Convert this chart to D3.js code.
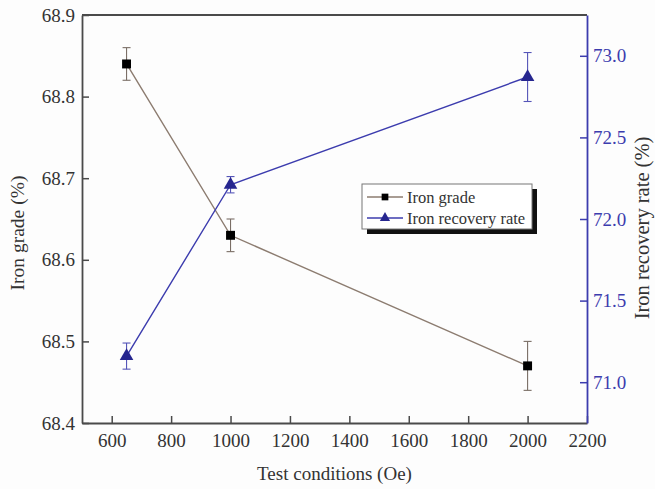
<!DOCTYPE html>
<html>
<head>
<meta charset="utf-8">
<script src="https://cdn.jsdelivr.net/npm/d3@7"></script>
<style>
  body { margin: 0; background: #fdfdfd; }
  text { font-family: "Liberation Serif", "Times New Roman", serif; }
</style>
</head>
<body>
<div id="chart"></div>
<script>
// Data
var conditions = [650, 1000, 2000];
var ironGrade = [68.84, 68.63, 68.47];
var ironGradeErr = [0.02, 0.02, 0.03];
var recovery = [71.16, 72.21, 72.87];
var recoveryErr = [0.08, 0.05, 0.15];

var xTicks = [600, 800, 1000, 1200, 1400, 1600, 1800, 2000, 2200];
var leftTicks = [68.4, 68.5, 68.6, 68.7, 68.8, 68.9];
var rightTicks = [71.0, 71.5, 72.0, 72.5, 73.0];
var seriesNames = ['Iron grade', 'Iron recovery rate'];

var chartWidth = 655;
var chartHeight = 489;
var margin = {top: 15, right: 68, bottom: 66, left: 82};

var blue = '#3c3cae';
var lineBrown = '#8c7c70';
var axisGray = '#4a4a4a';

var svg = d3.select('#chart')
    .append('svg')
    .attr('width', chartWidth)
    .attr('height', chartHeight);

// Scales
var scaleX = d3.scaleLinear()
    .domain([500, 2200])
    .range([margin.left, chartWidth - margin.right]);

var scaleY = d3.scaleLinear()
    .domain([68.4, 68.9])
    .range([chartHeight - margin.bottom, margin.top]);

var scaleY2 = d3.scaleLinear()
    .domain([70.75, 73.25])
    .range([chartHeight - margin.bottom, margin.top]);

var x0 = margin.left, x1 = chartWidth - margin.right;
var y0 = chartHeight - margin.bottom, y1 = margin.top;

// Top frame line
svg.append('line')
    .attr('x1', x0).attr('x2', x1)
    .attr('y1', y1).attr('y2', y1)
    .attr('stroke', axisGray).attr('stroke-width', 1.8);

// Axes
var xAxis = svg.append('g')
    .attr('transform', 'translate(0,' + y0 + ')')
    .call(d3.axisBottom(scaleX).tickValues(xTicks).tickSize(-7).tickPadding(11).tickSizeOuter(0)
      .tickFormat(d3.format('d')));

var yAxis = svg.append('g')
    .attr('transform', 'translate(' + x0 + ',0)')
    .call(d3.axisLeft(scaleY).tickValues(leftTicks).tickSize(-7).tickPadding(7).tickSizeOuter(0)
      .tickFormat(d3.format('.1f')));

var yAxis2 = svg.append('g')
    .attr('transform', 'translate(' + x1 + ',0)')
    .call(d3.axisRight(scaleY2).tickValues(rightTicks).tickSize(-7).tickPadding(6).tickSizeOuter(0)
      .tickFormat(d3.format('.1f')));

[xAxis, yAxis].forEach(function(g) {
  g.select('.domain').attr('stroke', axisGray).attr('stroke-width', 1.8);
  g.selectAll('.tick line').attr('stroke', axisGray).attr('stroke-width', 1.5);
  g.selectAll('.tick text').attr('fill', '#333');
});
yAxis2.select('.domain').attr('stroke', blue).attr('stroke-width', 1.8);
yAxis2.selectAll('.tick line').attr('stroke', blue).attr('stroke-width', 1.5);
yAxis2.selectAll('.tick text').attr('fill', blue);
svg.selectAll('.tick text')
    .attr('font-size', 19)
    .attr('font-family', '"Liberation Serif", serif');

// Axis titles
svg.append('text')
    .attr('x', (x0 + x1) / 2).attr('y', 480)
    .attr('text-anchor', 'middle')
    .attr('fill', '#333').style('font-size', '19px')
    .text('Test conditions (Oe)');

svg.append('text')
    .attr('transform', 'translate(24,233) rotate(-90)')
    .attr('text-anchor', 'middle')
    .attr('fill', '#333').style('font-size', '19.5px')
    .text('Iron grade (%)');

svg.append('text')
    .attr('transform', 'translate(649,228) rotate(-90)')
    .attr('text-anchor', 'middle')
    .attr('fill', '#333').style('font-size', '20.5px')
    .text('Iron recovery rate (%)');

var gradeData = conditions.map(function(c, i) {
  return {x: c, y: ironGrade[i], e: ironGradeErr[i]};
});
var recData = conditions.map(function(c, i) {
  return {x: c, y: recovery[i], e: recoveryErr[i]};
});

function drawSeries(data, sy, lineColor, errColor) {
  var line = d3.line()
      .x(function(d) { return scaleX(d.x); })
      .y(function(d) { return sy(d.y); });
  svg.append('path')
      .datum(data)
      .attr('d', line)
      .attr('fill', 'none')
      .attr('stroke', lineColor)
      .attr('stroke-width', 1.4);

  var err = svg.append('g').selectAll('g')
      .data(data)
      .enter()
      .append('g')
      .attr('stroke', errColor)
      .attr('stroke-width', 1.1);
  err.append('line')
      .attr('x1', function(d) { return scaleX(d.x); })
      .attr('x2', function(d) { return scaleX(d.x); })
      .attr('y1', function(d) { return sy(d.y - d.e); })
      .attr('y2', function(d) { return sy(d.y + d.e); });
  err.append('line')
      .attr('x1', function(d) { return scaleX(d.x) - 4; })
      .attr('x2', function(d) { return scaleX(d.x) + 4; })
      .attr('y1', function(d) { return sy(d.y + d.e); })
      .attr('y2', function(d) { return sy(d.y + d.e); });
  err.append('line')
      .attr('x1', function(d) { return scaleX(d.x) - 4; })
      .attr('x2', function(d) { return scaleX(d.x) + 4; })
      .attr('y1', function(d) { return sy(d.y - d.e); })
      .attr('y2', function(d) { return sy(d.y - d.e); });
}

drawSeries(gradeData, scaleY, lineBrown, '#7a6e66');
drawSeries(recData, scaleY2, blue, '#5555b8');

var square = d3.symbol().type(d3.symbolSquare).size(80);
var triangle = d3.symbol().type(d3.symbolTriangle).size(80);

svg.selectAll('path.grade')
    .data(gradeData)
    .enter()
    .append('path')
    .attr('class', 'grade')
    .attr('d', square)
    .attr('transform', function(d) {
      return 'translate(' + scaleX(d.x) + ',' + scaleY(d.y) + ')';
    })
    .attr('fill', '#000');

svg.selectAll('path.rec')
    .data(recData)
    .enter()
    .append('path')
    .attr('class', 'rec')
    .attr('d', triangle)
    .attr('transform', function(d) {
      return 'translate(' + scaleX(d.x) + ',' + scaleY2(d.y) + ')';
    })
    .attr('fill', '#26268f');

// Legend
var lg = svg.append('g').attr('transform', 'translate(362,184)');
lg.append('rect')
    .attr('x', 5).attr('y', 5)
    .attr('width', 170).attr('height', 45)
    .attr('fill', '#111');
lg.append('rect')
    .attr('x', 0).attr('y', 0)
    .attr('width', 170).attr('height', 45)
    .attr('fill', '#fff').attr('stroke', '#777').attr('stroke-width', 1);

var legendItems = lg.selectAll('g.item')
    .data(seriesNames)
    .enter()
    .append('g')
    .attr('class', 'item')
    .attr('transform', function(d, i) { return 'translate(0,' + (13 + i * 21) + ')'; });
legendItems.append('line')
    .attr('x1', 5).attr('x2', 41)
    .attr('y1', 0).attr('y2', 0)
    .attr('stroke', function(d, i) { return i === 0 ? lineBrown : blue; })
    .attr('stroke-width', 1.3);
legendItems.append('path')
    .attr('d', function(d, i) {
      return d3.symbol().type(i === 0 ? d3.symbolSquare : d3.symbolTriangle).size(45)();
    })
    .attr('transform', 'translate(23,0)')
    .attr('fill', function(d, i) { return i === 0 ? '#000' : '#26268f'; });
legendItems.append('text')
    .attr('x', 45).attr('y', 5.5)
    .attr('fill', '#333')
    .style('font-size', '16.5px')
    .text(function(d) { return d; });
</script>
</body>
</html>
